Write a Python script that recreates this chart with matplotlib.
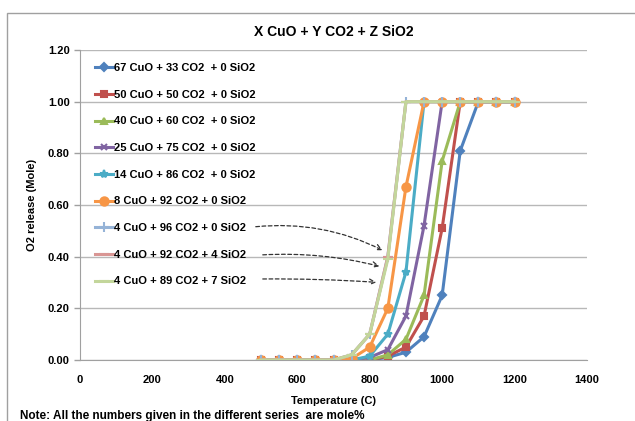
import matplotlib
matplotlib.use("Agg")
import matplotlib.pyplot as plt
from matplotlib.patches import Rectangle

# data
temps = [500, 550, 600, 650, 700, 750, 800, 850, 900, 950, 1000, 1050, 1100, 1150, 1200]

labels = [
    "67 CuO + 33 CO2  + 0 SiO2",
    "50 CuO + 50 CO2  + 0 SiO2",
    "40 CuO + 60 CO2  + 0 SiO2",
    "25 CuO + 75 CO2  + 0 SiO2",
    "14 CuO + 86 CO2  + 0 SiO2",
    "8 CuO + 92 CO2 + 0 SiO2",
    "4 CuO + 96 CO2 + 0 SiO2",
    "4 CuO + 92 CO2 + 4 SiO2",
    "4 CuO + 89 CO2 + 7 SiO2",
]

cuo67 = [0, 0, 0, 0, 0, 0, 0, 0.01, 0.03, 0.09, 0.25, 0.81, 1.0, 1.0, 1.0]
cuo50 = [0, 0, 0, 0, 0, 0, 0, 0.015, 0.05, 0.17, 0.51, 1.0, 1.0, 1.0, 1.0]
cuo40 = [0, 0, 0, 0, 0, 0, 0, 0.02, 0.08, 0.25, 0.77, 1.0, 1.0, 1.0, 1.0]
cuo25 = [0, 0, 0, 0, 0, 0, 0.01, 0.04, 0.17, 0.52, 1.0, 1.0, 1.0, 1.0, 1.0]
cuo14 = [0, 0, 0, 0, 0, 0, 0.015, 0.10, 0.34, 1.0, 1.0, 1.0, 1.0, 1.0, 1.0]
cuo8 = [0, 0, 0, 0, 0, 0.005, 0.05, 0.20, 0.67, 1.0, 1.0, 1.0, 1.0, 1.0, 1.0]
cuo4_sio0 = [0, 0, 0, 0, 0, 0.02, 0.10, 0.40, 1.0, 1.0, 1.0, 1.0, 1.0, 1.0, 1.0]
cuo4_sio4 = [0, 0, 0, 0, 0, 0.02, 0.10, 0.40, 1.0, 1.0, 1.0, 1.0, 1.0, 1.0, 1.0]
cuo4_sio7 = [0, 0, 0, 0, 0, 0.02, 0.10, 0.39, 1.0, 1.0, 1.0, 1.0, 1.0, 1.0, 1.0]

series = [cuo67, cuo50, cuo40, cuo25, cuo14, cuo8, cuo4_sio0, cuo4_sio4, cuo4_sio7]
colors = ["#4F81BD", "#C0504D", "#9BBB59", "#8064A2", "#4BACC6", "#F79646",
          "#95B3D7", "#D99694", "#C3D69B"]
markers = ["D", "s", "^", "x", "*", "o", "+", "_", "_"]
msizes = [4, 5, 5, 5, 6, 6, 7, 7, 7]

plt.rcParams['font.family'] = ['Liberation Sans Narrow', 'Liberation Sans', 'DejaVu Sans']
plt.rcParams['font.weight'] = 'bold'

fig = plt.figure(figsize=(6.35, 4.21), dpi=100)
fig.patches.append(Rectangle((7 / 635, -0.1), 1.2, 1 - 13 / 421 + 0.1,
                             transform=fig.transFigure, fill=False,
                             edgecolor="#a0a0a0", lw=1))

ax = fig.add_axes([80 / 635, 61 / 421, 507 / 635, 310 / 421])

for vals, lab, c, m, ms in zip(series, labels, colors, markers, msizes):
    ax.plot(temps, vals, color=c, lw=2.2, marker=m, markersize=ms,
            markeredgewidth=1.5, label=lab)

ax.set_xlim(0, 1400)
ax.set_ylim(0, 1.2)
ax.set_xticks(range(0, 1401, 200))
ax.set_yticks([i * 0.2 for i in range(7)])
ax.set_yticklabels([f"{i * 0.2:.2f}" for i in range(7)])
ax.tick_params(labelsize=8, length=4, color="#a0a0a0", width=1)
ax.tick_params(axis="x", length=0, pad=11)
for t in ax.get_xticklabels() + ax.get_yticklabels():
    t.set_fontweight("bold")
ax.grid(axis="y", color="#b8b8b8", lw=1)
ax.set_axisbelow(True)
for s in ["top", "right"]:
    ax.spines[s].set_visible(False)
for s in ["left", "bottom"]:
    ax.spines[s].set_color("#a0a0a0")

ax.set_title("X CuO + Y CO2 + Z SiO2", fontsize=10, fontweight="bold", pad=10)
ax.set_xlabel("Temperature (C)", fontsize=8, fontweight="bold", labelpad=8)
ax.set_ylabel("O2 release (Mole)", fontsize=8, fontweight="bold", labelpad=8)

ax.legend(loc="upper left", bbox_to_anchor=(0.01, 0.99), frameon=False,
          labelspacing=1.5, handlelength=1.6, handletextpad=0.1,
          prop={"weight": "bold", "size": 8})

# dashed arrows from last three legend entries to the curves
arrow_starts = [(253, 227), (260, 255), (260, 279)]
arrow_ends = [(842, 0.42), (834, 0.36), (826, 0.30)]
rads = [-0.15, -0.08, -0.02]
for (px, py), end, r in zip(arrow_starts, arrow_ends, rads):
    ax.annotate("", xy=end, xycoords="data",
                xytext=(px / 635, 1 - py / 421), textcoords="figure fraction",
                arrowprops=dict(arrowstyle="->", linestyle=(0, (3, 2)),
                                color="#333333", lw=0.9,
                                connectionstyle=f"arc3,rad={r}"))

fig.text(20 / 635, 1 - 416 / 421, "Note: All the numbers given in the different series  are mole%",
         fontsize=8.5, fontweight="bold", va="center")

fig.savefig("out.png", dpi=100)
